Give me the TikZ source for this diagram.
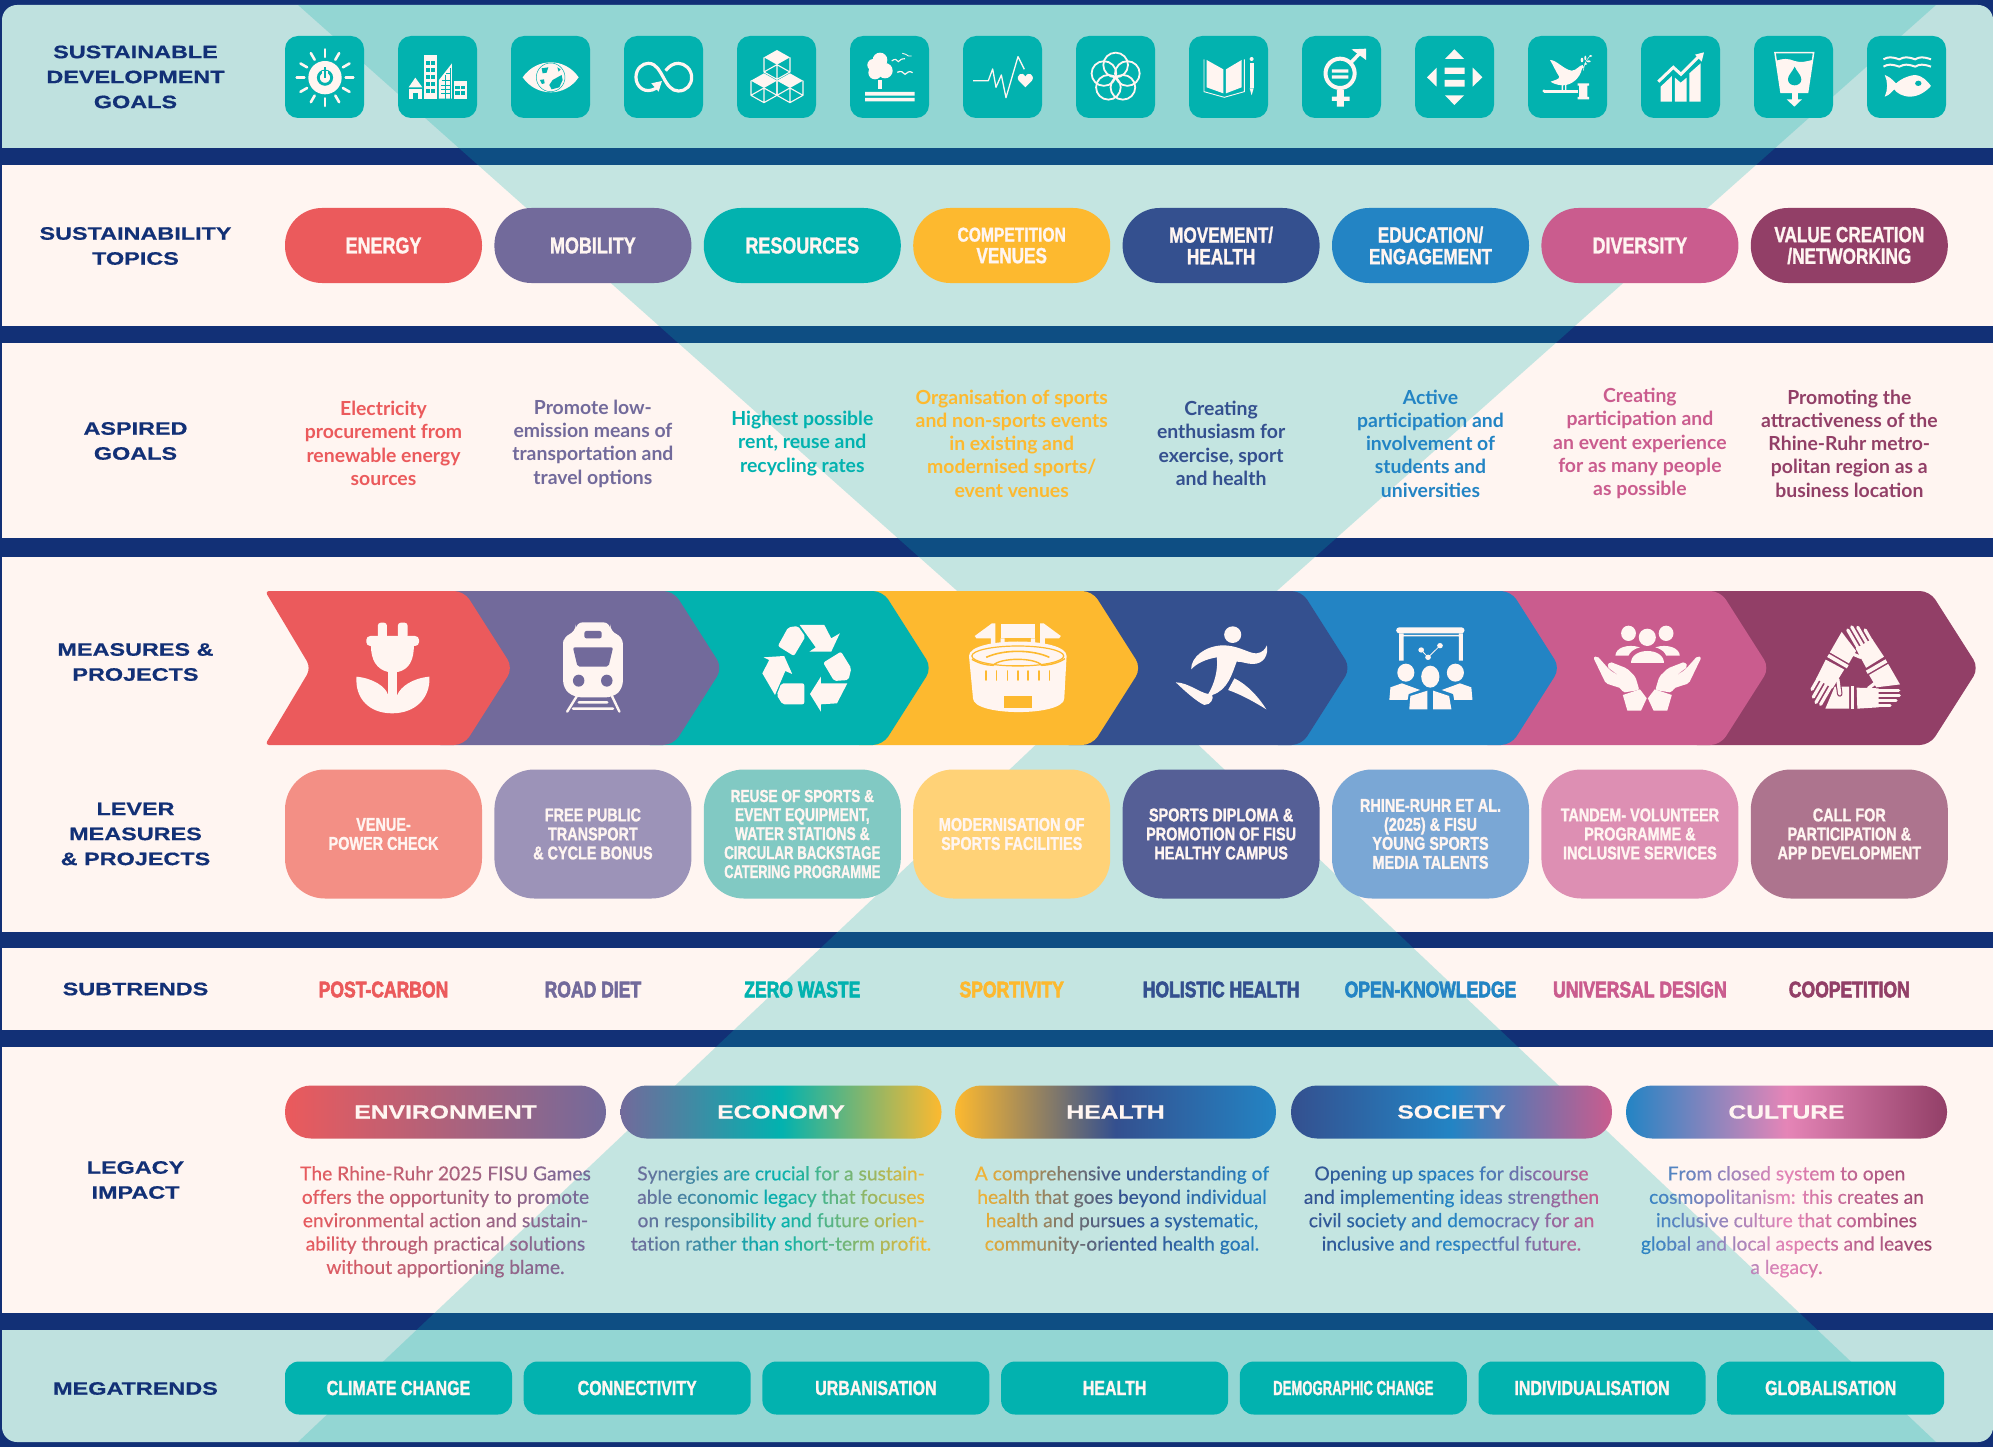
\documentclass[tikz,border=0pt]{standalone}
\usepackage{fontspec}
\usepackage{xcolor}
\setmainfont{Lato}
\newfontfamily\fcond[FakeStretch=0.78,FakeBold=1.2]{Liberation Sans Bold}
\newfontfamily\fheavy[FakeStretch=0.78,FakeBold=2.6]{Liberation Sans Bold}
\newfontfamily\fwide[FakeStretch=1.3,FakeBold=0.6]{Liberation Sans Bold}
\newfontfamily\flegacy[FakeBold=0.4]{Lato}
\definecolor{cNavy}{HTML}{123076}
\definecolor{cCream}{HTML}{FFF5F1}
\definecolor{cBand}{HTML}{BFE1DF}
\definecolor{cTeal}{HTML}{02B2AF}
\definecolor{cRed}{HTML}{EB5A5C}
\definecolor{cPurple}{HTML}{726A9B}
\definecolor{cYellow}{HTML}{FDB92F}
\definecolor{cNavyB}{HTML}{34508F}
\definecolor{cBlue}{HTML}{2384C4}
\definecolor{cPink}{HTML}{CA5C8E}
\definecolor{cPlum}{HTML}{923F67}
\definecolor{cHot}{HTML}{E585B7}
\definecolor{lRed}{HTML}{F38F85}
\definecolor{lPurple}{HTML}{9C93B8}
\definecolor{lTeal}{HTML}{81C9C3}
\definecolor{lYellow}{HTML}{FFD277}
\definecolor{lNavy}{HTML}{555F96}
\definecolor{lBlue}{HTML}{7AA7D5}
\definecolor{lPink}{HTML}{DD8FB3}
\definecolor{lPlum}{HTML}{AD748E}
\colorlet{gA}{cRed}\colorlet{gB}{cRed}\colorlet{gC}{cPurple}
\newdimen\gradw \gradw=300pt
\newcommand\setgrad[3]{\xglobal\colorlet{gA}{#1}\xglobal\colorlet{gB}{#2}\xglobal\colorlet{gC}{#3}}
\ExplSyntaxOn
\dim_new:N \l_gx_acc_dim
\dim_new:N \l_gx_off_dim
\box_new:N \l_gx_a_box
\box_new:N \l_gx_b_box
\tl_new:N \l_gx_f_tl
\tl_new:N \l_gx_p_tl
\NewDocumentCommand \gline { m }
 {
  \hbox_set:Nn \l_gx_a_box {#1}
  \dim_set:Nn \l_gx_off_dim { (\gradw - \box_wd:N \l_gx_a_box)/2 }
  \dim_zero:N \l_gx_acc_dim
  \str_map_inline:nn {#1}
   {
    \str_if_eq:nnTF {##1} {~}
     {
      \c_space_tl
      \dim_add:Nn \l_gx_acc_dim { \fontdimen2\font }
     }
     {
      \hbox_set:Nn \l_gx_b_box {##1}
      \tl_set:Nx \l_gx_f_tl { \fp_eval:n { max(0,min(1,(\dim_to_fp:n{\l_gx_off_dim+\l_gx_acc_dim}+0.5*\dim_to_fp:n{\box_wd:N \l_gx_b_box})/\dim_to_fp:n{\gradw})) } }
      \fp_compare:nNnTF { \l_gx_f_tl } < { 0.5 }
       {
        \tl_set:Nx \l_gx_p_tl { \fp_eval:n { round(200*\l_gx_f_tl,1) } }
        \textcolor{gB!\l_gx_p_tl!gA}{##1}
       }
       {
        \tl_set:Nx \l_gx_p_tl { \fp_eval:n { round(200*\l_gx_f_tl-100,1) } }
        \textcolor{gC!\l_gx_p_tl!gB}{##1}
       }
      \dim_add:Nn \l_gx_acc_dim { \box_wd:N \l_gx_b_box }
     }
   }
 }
\ExplSyntaxOff
\tikzset{
 rowlabel/.style={font=\fwide\fontsize{18}{25}\selectfont,text=cNavy,align=center,inner sep=0},
 sdgbox/.style={fill=cTeal,rounded corners=13pt,minimum width=79pt,minimum height=82pt,inner sep=0},
 topicpill/.style={rounded corners=37pt,minimum width=197pt,minimum height=75pt,inner sep=0,text=cCream,align=center,font=\fcond\fontsize{22}{21.6}\selectfont},
 goaltext/.style={font=\bfseries\fontsize{19.4}{23.3}\selectfont,align=center,inner sep=0},
 leverbox/.style={rounded corners=40pt,minimum width=197pt,minimum height=129pt,inner sep=0,text=cCream,align=center,font=\fcond\fontsize{18.5}{19}\selectfont},
 subtext/.style={font=\fheavy\fontsize{22.5}{24}\selectfont,inner sep=0},
 legpill/.style={rounded corners=26pt,minimum width=321pt,minimum height=53pt,inner sep=0,text=cCream,font=\fwide\fontsize{19}{22}\selectfont},
 legtext/.style={anchor=north,font=\flegacy\fontsize{19.2}{23.4}\selectfont,align=center,inner sep=0},
 megabox/.style={fill=cTeal,rounded corners=14pt,minimum width=227pt,minimum height=53pt,inner sep=0,text=cCream,font=\fcond\fontsize{20.5}{21}\selectfont},
 iw/.style={fill=cCream,draw=none},
 il/.style={draw=cCream,fill=none},
 it/.style={fill=cTeal,draw=none}
}
\newcommand\topicpillat[3]{\node[topicpill,fill=#2] (topic#1) at ({383.5+209.4*#1},245.5) {#3};}
\newcommand\goalat[3]{\node[goaltext,text=#2] (goal#1) at ({383.5+209.4*#1},443.5) {#3};}
\newcommand\leverat[3]{\node[leverbox,fill=#2] (lever#1) at ({383.5+209.4*#1},834) {#3};}
\newcommand\subat[3]{\node[subtext,text=#2] (sub#1) at ({383.5+209.4*#1},989.5) {#3};}
\newcommand\megaat[2]{\node[megabox] (mega#1) at ({398.5+238.7*#1},1388) {#2};}
\newcommand\chev[2]{%
 \pgfmathsetmacro\s{209.4*#1}%
 \fill[#2,rounded corners=10pt] ({221+\s},591) -- ({221+\s},745) -- ({464+\s},745) -- ({513+\s},668) -- ({464+\s},591) -- cycle;}
\newcommand\cubeat[2]{%
 \fill[iw] (#1,#2) -- ({#1+39},{#2+22}) -- (#1,{#2+44}) -- ({#1-39},{#2+22}) -- cycle;
 \draw[il,line width=1.1pt,line join=round] ({#1-39},{#2+22}) -- ({#1-39},{#2+66}) -- (#1,{#2+88}) -- ({#1+39},{#2+66}) -- ({#1+39},{#2+22}) (#1,{#2+44}) -- (#1,{#2+88}) ({#1-39},{#2+66}) -- (#1,{#2+44}) -- ({#1+39},{#2+66});}
\begin{document}
\begin{tikzpicture}[x=1pt,y=-1pt]
\useasboundingbox (0,0) rectangle (1993,1447);
\fill[cNavy] (0,0) rectangle (1993,1447);
% bands
\fill[cBand,rounded corners=15pt] (2,5) -- (1993,5) -- (1993,148) -- (2,148) -- cycle;
\fill[cBand] (2,100) rectangle (1993,148);
\fill[cBand,rounded corners=15pt] (2,1330) -- (1993,1330) -- (1993,1442) -- (2,1442) -- cycle;
\fill[cBand] (2,1330) rectangle (1993,1380);
\fill[cCream] (2,165) rectangle (1993,326);
\fill[cCream] (2,343) rectangle (1993,538);
\fill[cCream] (2,557) rectangle (1993,932);
\fill[cCream] (2,948) rectangle (1993,1030);
\fill[cCream] (2,1047) rectangle (1993,1313);
% hourglass
\fill[cTeal,opacity=.233] (298,5) -- (1936,5) -- (1117,733) -- cycle;
\fill[cTeal,opacity=.233] (298,1442) -- (1936,1442) -- (1117,668) -- cycle;
% row labels
\node[rowlabel] (lab1) at (135.5,77) {SUSTAINABLE\\DEVELOPMENT\\GOALS};
\node[rowlabel] (lab2) at (135.5,246) {SUSTAINABILITY\\TOPICS};
\node[rowlabel] (lab3) at (135.5,441) {ASPIRED\\GOALS};
\node[rowlabel] (lab4) at (135.5,662) {MEASURES \&\\PROJECTS};
\node[rowlabel] (lab5) at (135.5,834) {LEVER\\MEASURES\\\& PROJECTS};
\node[rowlabel] (lab6) at (135.5,989) {SUBTRENDS};
\node[rowlabel] (lab7) at (135.5,1180) {LEGACY\\IMPACT};
\node[rowlabel] (lab8) at (135.5,1388.5) {MEGATRENDS};
% SDG boxes
\foreach \i in {0,...,14} \node[sdgbox] (sdg\i) at ({324.5+113*\i},77) {};
% icons zoom 7
\begin{scope}[shift={(280,30)},scale=0.3333]
 \foreach \a in {0,30,...,330} \draw[il,line width=2.6pt,line cap=round] ({135+62*cos(\a)},{143+62*sin(\a)}) -- ({135+85*cos(\a)},{143+85*sin(\a)});
 \fill[iw] (135,143) circle (50);
 \draw[draw=cTeal,line width=2.8pt] (135,143) circle (20);
 \draw[draw=cCream,line width=6pt] (135,122) -- (135,140);
 \draw[draw=cTeal,line width=2.6pt] (135,112) -- (135,143);
 % city
 \fill[iw] (432,75) rectangle (471,206);
 \foreach \y in {92,113,135,157,178} {\fill[it] (438,\y) rectangle (449,{\y+12}); \fill[it] (453,\y) rectangle (465,{\y+12});}
 \fill[iw] (386,172) -- (406,143) -- (427,172) -- cycle;
 \fill[iw] (386,176) rectangle (427,206);
 \fill[it] (398,188) rectangle (414,206);
 \fill[iw] (477,150) -- (516,100) -- (516,206) -- (477,206) -- cycle;
 \draw[draw=cTeal,line width=.7pt] (485,152) -- (510,152) (483,165) -- (510,165) (483,178) -- (510,178) (483,191) -- (510,191) (497,135) -- (497,206) (510,115) -- (510,206) (510,130) -- (497,130);
 \fill[iw] (521,153) rectangle (561,206);
 \fill[it] (526,168) rectangle (539,178); \fill[it] (543,168) rectangle (556,178); \fill[it] (526,183) rectangle (539,195); \fill[it] (543,183) rectangle (556,195);
 % eye
 \fill[iw] (728,142) .. controls (770,82) and (855,82) .. (896,142) .. controls (855,202) and (770,202) .. (728,142) -- cycle;
 \draw[draw=cTeal,line width=.5pt] (812,142) circle (43);
 \fill[it] (785,115) -- (805,112) -- (800,128) -- (788,130) -- cycle;
 \fill[it] (818,150) -- (845,135) -- (848,150) -- (838,172) -- (815,178) -- (808,165) -- cycle;
 \fill[it] (780,150) -- (792,148) -- (794,160) -- (786,162) -- cycle;
 \fill[it] (832,112) -- (842,118) -- (836,125) -- cycle;
 % infinity
 \draw[il,line width=3.2pt] (1130,174) .. controls (1095,195) and (1068,170) .. (1068,142) .. controls (1068,115) and (1088,100) .. (1105,100) .. controls (1130,100) and (1140,125) .. (1150,142) .. controls (1162,165) and (1175,183) .. (1195,183) .. controls (1220,183) and (1235,165) .. (1235,142) .. controls (1235,118) and (1215,100) .. (1195,100) .. controls (1180,100) and (1168,108) .. (1157,122);
 \fill[iw] (1146,153) -- (1114,160) -- (1136,185) -- cycle;
 % cubes
 \cubeat{1491}{60}\cubeat{1452}{130}\cubeat{1530}{130}
\end{scope}
% icons zoom 8
\begin{scope}[shift={(840,30)},scale=0.3333]
 \fill[iw] (120,90) circle (22) (100,105) circle (18) (135,122) circle (23) (105,128) circle (20) (120,115) circle (22);
 \fill[iw] (114,150) rectangle (126,177);
 \fill[iw] (75,186) rectangle (224,197) (75,204) rectangle (224,214);
 \draw[il,line width=1.1pt] (155,93) .. controls (165,85) and (170,88) .. (175,95) .. controls (180,88) and (188,85) .. (195,86);
 \draw[il,line width=.9pt] (187,70) .. controls (195,70) and (200,75) .. (205,78) -- (215,78);
 \draw[il,line width=1.2pt] (172,127) .. controls (182,122) and (190,125) .. (195,133) .. controls (200,126) and (210,122) .. (218,128);
 % pulse
 \draw[il,line width=1.3pt,line join=round] (399,152) -- (445,152) -- (458,117) -- (468,172) -- (484,135) -- (498,203) -- (534,80) -- (553,118);
 \fill[iw] (556,172) -- (536,152) .. controls (526,135) and (548,122) .. (556,140) .. controls (564,122) and (586,135) .. (576,152) -- cycle;
 % flower
 \foreach \a in {90,162,234,306,18} \draw[il,line width=1.8pt] ({827+37*cos(\a)},{142-37*sin(\a)}) circle (37);
 % book
 \fill[iw] (1100,90) -- (1150,118) -- (1150,190) -- (1100,172) -- cycle;
 \fill[iw] (1158,118) -- (1205,90) -- (1205,172) -- (1158,190) -- cycle;
 \draw[il,line width=.9pt] (1092,88) -- (1092,185) -- (1153,202) -- (1213,185) -- (1213,88);
 \fill[iw] (1235,87) circle (6);
 \fill[iw] (1229,98) rectangle (1241,175);
 \fill[iw] (1229,175) -- (1241,175) -- (1235,196) -- cycle;
\end{scope}
% icons zoom 2 (gender, fish)
\begin{scope}[shift={(1000,0)},xscale=0.6333,yscale=0.3333]
 \draw[il,line width=4pt] (537,220) ellipse [x radius=23, y radius=44];
 \fill[iw] (524,208) rectangle (550,218) (524,226) rectangle (550,236);
 \fill[iw] (532,270) rectangle (543,320) (524,290) rectangle (552,303);
 \draw[il,line width=3.5pt] (553,190) -- (572,152);
 \fill[iw] (555,148) -- (578,146) -- (578,180) -- cycle;
 % fish
 \foreach \y in {178,200} \draw[il,line width=2pt] (1395,\y) .. controls (1402,{\y-8}) and (1408,{\y-8}) .. (1420,{\y}) .. controls (1428,{\y-8}) and (1433,{\y-8}) .. (1445,{\y}) .. controls (1452,{\y-8}) and (1458,{\y-8}) .. (1470,{\y});
 \fill[iw] (1397,225) .. controls (1410,235) and (1412,248) .. (1415,250) .. controls (1425,232) and (1440,225) .. (1445,225) .. controls (1458,228) and (1465,245) .. (1470,258) .. controls (1462,275) and (1450,290) .. (1437,290) .. controls (1425,290) and (1415,278) .. (1412,268) .. controls (1408,275) and (1405,285) .. (1397,290) .. controls (1402,270) and (1402,245) .. (1397,225) -- cycle;
 \fill[it] (1450,250) ellipse [x radius=5, y radius=8];
\end{scope}
% icons zoom 9
\begin{scope}[shift={(1400,30)},scale=0.3333]
 \fill[iw] (163,58) -- (192,87) -- (135,87) -- cycle (163,225) -- (135,196) -- (192,196) -- cycle (81,142) -- (110,113) -- (110,170) -- cycle (247,142) -- (218,113) -- (218,170) -- cycle;
 \fill[iw] (134,113) rectangle (194,132) (134,150) rectangle (194,170);
 % dove + gavel
 \fill[iw] (450,90) .. controls (470,90) and (490,118) .. (515,122) .. controls (530,122) and (538,105) .. (548,105) -- (552,112) -- (546,116) .. controls (540,145) and (515,165) .. (490,166) .. controls (470,166) and (455,158) .. (452,155) .. controls (465,150) and (478,148) .. (478,140) .. controls (470,130) and (462,110) .. (450,90) -- cycle;
 \fill[iw] (485,164) rectangle (489,182) (495,164) rectangle (499,182);
 \fill[iw] (432,179) rectangle (535,188);
 \fill[iw] (432,183) circle (5);
 \fill[iw] (537,168) rectangle (562,200) (533,160) rectangle (567,167) (533,201) rectangle (567,208);
 \draw[il,line width=.5pt] (550,122) .. controls (552,105) and (558,90) .. (570,78);
 \fill[iw] (546,90) ellipse [x radius=4, y radius=7] (556,84) ellipse [x radius=3, y radius=7] (572,78) ellipse [x radius=5, y radius=3] (566,94) ellipse [x radius=6, y radius=3] (557,102) ellipse [x radius=5, y radius=3];
 % growth
 \fill[iw] (782,170) -- (816,138) -- (816,215) -- (782,215) -- cycle;
 \fill[iw] (825,143) -- (842,158) -- (860,143) -- (860,215) -- (825,215) -- cycle;
 \fill[iw] (868,130) -- (902,100) -- (902,215) -- (868,215) -- cycle;
 \draw[il,line width=3pt] (775,155) -- (820,112) -- (843,133) -- (898,78);
 \fill[iw] (912,67) -- (885,74) -- (905,95) -- cycle;
 % water
 \draw[il,line width=1.5pt] (1125,68) -- (1241,68) -- (1223,187) -- (1143,187) -- cycle;
 \fill[iw] (1129,92) .. controls (1150,85) and (1165,85) .. (1184,93) .. controls (1205,100) and (1220,93) .. (1238,90) -- (1222,187) -- (1144,187) -- cycle;
 \fill[it] (1184,110) .. controls (1190,125) and (1204,135) .. (1204,148) .. controls (1204,172) and (1164,172) .. (1164,148) .. controls (1164,135) and (1178,125) .. (1184,110) -- cycle;
 \fill[iw] (1175,187) rectangle (1193,210);
 \fill[iw] (1160,208) -- (1206,208) -- (1183,230) -- cycle;
\end{scope}
% chevrons
\chev{7}{cPlum}\chev{6}{cPink}\chev{5}{cBlue}\chev{4}{cNavyB}\chev{3}{cYellow}\chev{2}{cTeal}\chev{1}{cPurple}
\fill[cRed,rounded corners=4pt] (265,591) [rounded corners=8pt] -- (311,668) [rounded corners=4pt] -- (265,745) [rounded corners=10pt] -- (464,745) -- (513,668) -- (464,591) [rounded corners=4pt] -- cycle;
% chevron icons zoom 3
\begin{scope}[shift={(240,570)},xscale=0.574,yscale=0.3333]
 % plug tulip
 \fill[iw,rounded corners=3pt] (240,158) rectangle (256,205) (275,158) rectangle (292,205);
 \fill[iw,rounded corners=4pt] (220,198) rectangle (312,228);
 \fill[iw] (228,225) .. controls (228,270) and (238,298) .. (258,306) -- (275,306) .. controls (295,298) and (303,270) .. (303,225) -- cycle;
 \fill[iw] (258,300) rectangle (274,400);
 \fill[iw] (203,320) .. controls (232,325) and (254,350) .. (258,375) -- (274,375) .. controls (280,350) and (300,325) .. (330,320) .. controls (332,385) and (305,430) .. (265,430) .. controls (225,430) and (200,385) .. (203,320) -- cycle;
 % train
 \fill[iw,rounded corners=7pt] (563,230) -- (563,200) -- (585,185) -- (585,157) -- (645,157) -- (645,185) -- (667,200) -- (667,355) -- (650,382) -- (582,382) -- (563,355) -- cycle;
 \fill[cPurple,rounded corners=2pt] (600,183) rectangle (630,205);
 \fill[cPurple,rounded corners=2pt] (580,232) -- (650,232) -- (642,290) -- (588,290) -- cycle;
 \fill[cPurple] (590,332) ellipse [x radius=10, y radius=18] (639,332) ellipse [x radius=10, y radius=18];
 \draw[il,line width=2.4pt,line cap=round] (587,378) -- (570,425) (648,378) -- (661,425) (590,397) -- (640,397) (580,416) -- (650,416);
 % recycle
 \fill[iw,rounded corners=2pt] (955,172) -- (972,168) -- (985,200) -- (965,258) -- (937,228) -- cycle;
 \fill[iw] (975,165) -- (1018,165) -- (1030,205) -- (1045,190) -- (1030,245) -- (992,245) -- (1003,232) -- cycle;
 \fill[iw,rounded corners=2pt] (1047,245) -- (1065,295) -- (1060,330) -- (1035,333) -- (1016,278) -- cycle;
 \fill[iw] (1012,320) -- (1012,340) -- (1058,340) -- (1040,400) -- (1012,403) -- (1012,425) -- (993,372) -- cycle;
 \fill[iw,rounded corners=2pt] (943,340) -- (983,340) -- (983,403) -- (945,403) -- (935,375) -- cycle;
 \fill[iw] (912,262) -- (948,258) -- (962,312) -- (950,303) -- (932,375) -- (910,310) -- (922,270) -- cycle;
 % stadium
 \fill[iw] (1310,160) -- (1280,198) -- (1283,205) -- (1308,205) -- (1308,222) -- (1316,222) -- (1316,160) -- cycle;
 \fill[iw] (1400,160) -- (1430,198) -- (1427,205) -- (1402,205) -- (1402,222) -- (1394,222) -- (1394,160) -- cycle;
 \fill[iw] (1325,162) rectangle (1385,205);
 \fill[iw] (1325,205) rectangle (1332,222) (1378,205) rectangle (1385,222);
 \fill[iw] (1270,258) .. controls (1270,200) and (1440,200) .. (1440,258) -- (1436,385) .. controls (1436,440) and (1277,440) .. (1277,385) -- cycle;
 \draw[draw=cYellow,line width=1.2pt] (1355,258) ellipse [x radius=80, y radius=30];
 \draw[draw=cYellow,line width=1.6pt] (1300,262) .. controls (1330,238) and (1380,238) .. (1410,262);
 \draw[draw=cYellow,line width=1.4pt] (1275,268) .. controls (1290,282) and (1300,285) .. (1312,286) .. controls (1325,262) and (1385,262) .. (1397,286) .. controls (1410,285) and (1425,280) .. (1437,266);
 \draw[draw=cYellow,line width=1pt] (1325,288) -- (1385,288);
 \foreach \x in {1300,1318,1337,1355,1373,1392,1410} \draw[draw=cYellow,line width=1.7pt,line cap=round] (\x,303) -- (\x,330);
 \fill[cYellow] (1331,378) rectangle (1380,415);
\end{scope}
% chevron icons zoom 4
\begin{scope}[shift={(1100,570)},xscale=0.5695,yscale=0.3333]
 % runner
 \fill[iw] (233,194) ellipse [x radius=15, y radius=25];
 \fill[iw] (160,298) .. controls (160,260) and (185,228) .. (215,226) .. controls (245,226) and (262,252) .. (275,250) .. controls (285,248) and (290,238) .. (293,226) .. controls (296,255) and (288,282) .. (268,282) .. controls (258,282) and (248,274) .. (240,275) .. controls (232,310) and (225,360) .. (197,375) .. controls (200,385) and (195,405) .. (183,405) .. controls (170,395) and (150,365) .. (133,337) .. controls (155,338) and (175,368) .. (190,372) .. controls (200,345) and (208,300) .. (205,262) .. controls (185,268) and (170,280) .. (160,298) -- cycle;
 \fill[iw] (236,325) -- (225,360) .. controls (250,375) and (275,400) .. (292,418) .. controls (280,385) and (260,345) .. (236,325) -- cycle;
 % presentation
 \fill[iw,rounded corners=3pt] (520,172) rectangle (640,190);
 \fill[iw] (525,190) rectangle (533,272) (630,190) rectangle (637,272) (525,195) rectangle (637,199);
 \fill[iw] (564,240) ellipse [x radius=5, y radius=8] (576,262) ellipse [x radius=5, y radius=8] (597,227) ellipse [x radius=5, y radius=8];
 \draw[il,line width=.8pt] (564,240) -- (576,262) -- (597,227);
 \fill[iw] (537,308) ellipse [x radius=15, y radius=27] (624,308) ellipse [x radius=15, y radius=27] (580,320) ellipse [x radius=16, y radius=33];
 \fill[iw] (510,352) -- (530,340) -- (562,360) -- (542,372) -- (540,390) -- (508,390) -- cycle;
 \fill[iw] (652,352) -- (632,340) -- (600,360) -- (620,372) -- (622,390) -- (654,390) -- cycle;
 \fill[iw] (545,378) -- (575,362) -- (575,418) -- (543,418) -- cycle;
 \fill[iw] (585,362) -- (613,378) -- (617,418) -- (585,418) -- cycle;
 % people in hands
 \fill[iw] (928,190) ellipse [x radius=13, y radius=23] (961,202) ellipse [x radius=15, y radius=26] (994,190) ellipse [x radius=13, y radius=23];
 \fill[iw] (905,257) .. controls (905,235) and (925,220) .. (948,232) .. controls (935,238) and (930,248) .. (928,257) -- cycle;
 \fill[iw] (1018,257) .. controls (1018,235) and (997,220) .. (975,232) .. controls (988,238) and (992,248) .. (994,257) -- cycle;
 \fill[iw] (932,280) .. controls (932,230) and (990,230) .. (990,280) -- cycle;
 \foreach \m in {0,1} {
 \begin{scope}[shift={(\m*1922,0)},xscale={1-2*\m}]
 \fill[iw,rounded corners=2pt] (866,262) -- (873,258) -- (895,300) -- (915,322) -- (890,290) -- (895,275) -- (925,295) -- (940,320) -- (947,360) -- (918,368) -- (915,355) -- (888,340) -- cycle;
 \fill[iw] (918,375) -- (948,358) -- (960,385) -- (950,422) -- (926,422) -- cycle;
 \end{scope}}
\end{scope}
% hands triangle
\begin{scope}[shift={(1800,620)},scale=0.3333]
 \foreach \a in {0,120,240} {
 \begin{scope}[rotate around={\a:(167,165)}]
  \fill[iw] (76,266) -- (147,266) -- (147,200) -- (104,200) -- cycle;
  \fill[iw] (152,198) rectangle (163,266);
  \draw[draw=cPlum,line width=5.5pt,line cap=round] (205,205) -- (240,178);
  \draw[il,line width=3.3pt,line cap=round] (205,205) -- (240,178);
  \fill[iw] (170,203) -- (236,205) -- (236,262) -- (172,266) -- cycle;
  \draw[il,line width=3.2pt,line cap=round] (230,212) -- (296,212) (230,227) -- (298,227) (230,242) -- (288,242) (230,257) -- (270,257);
 \end{scope}}
\end{scope}
% topics
\topicpillat{0}{cRed}{\fontsize{23}{23}\selectfont ENERGY}
\topicpillat{1}{cPurple}{\fontsize{23}{23}\selectfont MOBILITY}
\topicpillat{2}{cTeal}{\fontsize{23}{23}\selectfont RESOURCES}
\topicpillat{3}{cYellow}{\fontsize{20}{21.6}\selectfont COMPETITION\\VENUES}
\topicpillat{4}{cNavyB}{MOVEMENT/\\HEALTH}
\topicpillat{5}{cBlue}{EDUCATION/\\ENGAGEMENT}
\topicpillat{6}{cPink}{\fontsize{23}{23}\selectfont DIVERSITY}
\topicpillat{7}{cPlum}{VALUE CREATION\\/NETWORKING}
% goals
\goalat{0}{cRed}{Electricity\\procurement from\\renewable energy\\sources}
\goalat{1}{cPurple}{Promote low-\\emission means of\\transportation and\\travel options}
\goalat{2}{cTeal}{Highest possible\\rent, reuse and\\recycling rates}
\goalat{3}{cYellow}{Organisation of sports\\and non-sports events\\in existing and\\modernised sports/\\event venues}
\goalat{4}{cNavyB}{Creating\\enthusiasm for\\exercise, sport\\and health}
\goalat{5}{cBlue}{Active\\participation and\\involvement of\\students and\\universities}
\goalat{6}{cPink}{Creating\\participation and\\an event experience\\for as many people\\as possible}
\goalat{7}{cPlum}{Promoting the\\attractiveness of the\\Rhine-Ruhr metro-\\politan region as a\\business location}
% levers
\leverat{0}{lRed}{VENUE-\\POWER CHECK}
\leverat{1}{lPurple}{FREE PUBLIC\\TRANSPORT\\\& CYCLE BONUS}
\leverat{2}{lTeal}{\fontsize{17.5}{18.2}\selectfont REUSE OF SPORTS \&\\\scalebox{0.96}[1]{EVENT EQUIPMENT,}\\\scalebox{0.96}[1]{WATER STATIONS \&}\\\scalebox{0.92}[1]{CIRCULAR BACKSTAGE}\\\scalebox{0.89}[1]{CATERING PROGRAMME}}
\leverat{3}{lYellow}{MODERNISATION OF\\SPORTS FACILITIES}
\leverat{4}{lNavy}{SPORTS DIPLOMA \&\\PROMOTION OF FISU\\HEALTHY CAMPUS}
\leverat{5}{lBlue}{RHINE-RUHR ET AL.\\(2025) \& FISU\\YOUNG SPORTS\\MEDIA TALENTS}
\leverat{6}{lPink}{TANDEM- VOLUNTEER\\PROGRAMME \&\\INCLUSIVE SERVICES}
\leverat{7}{lPlum}{CALL FOR\\PARTICIPATION \&\\APP DEVELOPMENT}
% subtrends
\subat{0}{cRed}{POST-CARBON}
\subat{1}{cPurple}{ROAD DIET}
\subat{2}{cTeal}{ZERO WASTE}
\subat{3}{cYellow}{SPORTIVITY}
\subat{4}{cNavyB}{HOLISTIC HEALTH}
\subat{5}{cBlue}{OPEN-KNOWLEDGE}
\subat{6}{cPink}{UNIVERSAL DESIGN}
\subat{7}{cPlum}{COOPETITION}
% legacy
\node[legpill,left color=cRed,right color=cPurple] (leg0) at (445.5,1112) {ENVIRONMENT};
\node[legpill,left color=cPurple,right color=cYellow,middle color=cTeal] (leg1) at (781,1112) {ECONOMY};
\node[legpill,left color=cYellow,right color=cBlue,middle color=cNavyB] (leg2) at (1115.5,1112) {HEALTH};
\node[legpill,left color=cNavyB,right color=cPink,middle color=cBlue] (leg3) at (1451.5,1112) {SOCIETY};
\node[legpill,left color=cBlue,right color=cPlum,middle color=cHot] (leg4) at (1786.5,1112) {CULTURE};
\node[legtext] (legt0) at (445.5,1166) {\setgrad{cRed}{cRed!50!cPurple}{cPurple}\gline{The Rhine-Ruhr 2025 FISU Games}\\\gline{offers the opportunity to promote}\\\gline{environmental action and sustain-}\\\gline{ability through practical solutions}\\\gline{without apportioning blame.}};
\node[legtext] (legt1) at (781,1166) {\setgrad{cPurple}{cTeal}{cYellow}\gline{Synergies are crucial for a sustain-}\\\gline{able economic legacy that focuses}\\\gline{on responsibility and future orien-}\\\gline{tation rather than short-term profit.}};
\node[legtext] (legt2) at (1122,1166) {\setgrad{cYellow}{cNavyB}{cBlue}\gline{A comprehensive understanding of}\\\gline{health that goes beyond individual}\\\gline{health and pursues a systematic,}\\\gline{community-oriented health goal.}};
\node[legtext] (legt3) at (1451.5,1166) {\setgrad{cNavyB}{cBlue}{cPink}\gline{Opening up spaces for discourse}\\\gline{and implementing ideas strengthen}\\\gline{civil society and democracy for an}\\\gline{inclusive and respectful future.}};
\node[legtext] (legt4) at (1786.5,1166) {\setgrad{cBlue}{cHot}{cPlum}\gline{From closed system to open}\\\gline{cosmopolitanism: this creates an}\\\gline{inclusive culture that combines}\\\gline{global and local aspects and leaves}\\\gline{a legacy.}};
% mega
\megaat{0}{CLIMATE CHANGE}
\megaat{1}{CONNECTIVITY}
\megaat{2}{URBANISATION}
\megaat{3}{HEALTH}
\megaat{4}{\scalebox{0.82}[1]{DEMOGRAPHIC CHANGE}}
\megaat{5}{INDIVIDUALISATION}
\megaat{6}{GLOBALISATION}
\end{tikzpicture}
\end{document}
